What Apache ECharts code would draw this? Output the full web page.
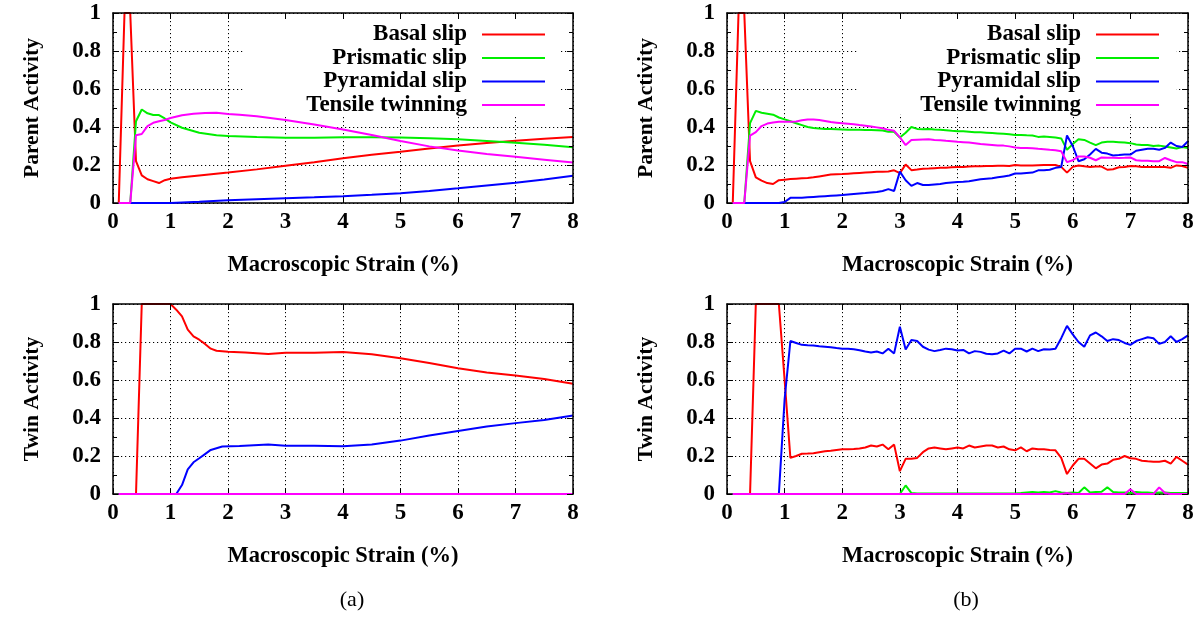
<!DOCTYPE html>
<html><head><meta charset="utf-8">
<script src="https://cdn.jsdelivr.net/npm/echarts@6/dist/echarts.min.js"></script>
<style>html,body{margin:0;padding:0;background:#fff}#c{width:1200px;height:643px}</style>
</head><body><div id="c"></div>
<script>
// ---------- data ----------
const seriesNames = ['Basal slip', 'Prismatic slip', 'Pyramidal slip', 'Tensile twinning'];
const xTicks = [0, 1, 2, 3, 4, 5, 6, 7, 8];
const yTicks = [0, 0.2, 0.4, 0.6, 0.8, 1];

// (a) parent activity, [strain, value]
const aParentBasal = [[0.1,0],[0.2,1],[0.3,1],[0.4,0.22],[0.5,0.145],[0.6,0.125],[0.7,0.115],[0.8,0.105],[0.9,0.12],[1.0,0.128],[1.2,0.135],[1.5,0.145],[2,0.16],[2.5,0.177],[3,0.196],[3.5,0.215],[4,0.236],[4.5,0.254],[5,0.27],[5.5,0.287],[6,0.302],[6.5,0.316],[7,0.327],[7.5,0.338],[8,0.347]];
const aParentPrism = [[0.1,0],[0.3,0],[0.4,0.43],[0.5,0.492],[0.6,0.472],[0.7,0.463],[0.8,0.463],[0.9,0.445],[1.0,0.424],[1.2,0.396],[1.5,0.37],[1.8,0.356],[2,0.352],[2.5,0.347],[3,0.343],[3.5,0.344],[4,0.346],[4.5,0.346],[5,0.345],[5.5,0.341],[6,0.335],[6.5,0.326],[7,0.317],[7.5,0.306],[8,0.294]];
const aParentPyram = [[0.1,0],[1.0,0],[1.5,0.006],[2,0.015],[2.5,0.02],[3,0.025],[3.5,0.03],[4,0.036],[4.5,0.043],[5,0.051],[5.5,0.063],[6,0.077],[6.5,0.092],[7,0.107],[7.5,0.124],[8,0.144]];
const aParentTwin = [[0.1,0],[0.3,0],[0.4,0.357],[0.5,0.363],[0.6,0.405],[0.7,0.422],[0.8,0.43],[0.9,0.437],[1.0,0.447],[1.2,0.462],[1.4,0.47],[1.6,0.474],[1.8,0.475],[2,0.469],[2.2,0.465],[2.5,0.456],[3,0.437],[3.5,0.413],[4,0.387],[4.5,0.358],[5,0.326],[5.5,0.298],[6,0.276],[6.5,0.258],[7,0.243],[7.5,0.228],[8,0.213]];

// (a) twin activity, [strain, value]
const aTwinBasal = [[0.1,0],[0.4,0],[0.5,1],[1.0,1],[1.1,0.97],[1.2,0.935],[1.3,0.865],[1.4,0.83],[1.5,0.812],[1.6,0.79],[1.7,0.765],[1.8,0.754],[2,0.749],[2.3,0.745],[2.7,0.737],[3,0.743],[3.5,0.744],[4,0.747],[4.5,0.735],[5,0.715],[5.5,0.69],[6,0.662],[6.5,0.64],[7,0.624],[7.5,0.605],[8,0.58]];
const aTwinPrism = [[0.1,0],[8,0]];
const aTwinPyram = [[0.1,0],[1.1,0],[1.2,0.047],[1.3,0.13],[1.4,0.167],[1.5,0.188],[1.6,0.21],[1.7,0.232],[1.9,0.25],[2.2,0.252],[2.7,0.26],[3,0.254],[3.5,0.254],[4,0.251],[4.5,0.26],[5,0.281],[5.5,0.308],[6,0.332],[6.5,0.355],[7,0.373],[7.5,0.39],[8,0.413]];
const aTwinTwin = [[0.1,0],[8,0]];

// (b) strain grid shared by all (b) series
const bStrain = [0.1,0.2,0.3,0.4,0.5,0.6,0.7,0.8,0.9,1.0,1.1,1.2,1.3,1.4,1.5,1.6,1.7,1.8,1.9,2.0,2.1,2.2,2.3,2.4,2.5,2.6,2.7,2.8,2.9,3.0,3.1,3.2,3.3,3.4,3.5,3.6,3.7,3.8,3.9,4.0,4.1,4.2,4.3,4.4,4.5,4.6,4.7,4.8,4.9,5.0,5.1,5.2,5.3,5.4,5.5,5.6,5.7,5.8,5.9,6.0,6.1,6.2,6.3,6.4,6.5,6.6,6.7,6.8,6.9,7.0,7.1,7.2,7.3,7.4,7.5,7.6,7.7,7.8,7.9,8.0];

// (b) parent activity
const bParentBasal = [0,1,1,0.22,0.135,0.118,0.105,0.1,0.12,0.123, 0.126,0.128,0.13,0.132,0.135,0.14,0.145,0.15,0.151,0.152, 0.154,0.156,0.158,0.16,0.162,0.164,0.165,0.166,0.172,0.157, 0.203,0.173,0.176,0.18,0.181,0.183,0.185,0.186,0.188,0.19, 0.19,0.192,0.193,0.194,0.195,0.195,0.196,0.196,0.195,0.2, 0.197,0.197,0.198,0.199,0.2,0.2,0.2,0.19,0.16,0.19, 0.197,0.193,0.19,0.192,0.192,0.175,0.178,0.188,0.19,0.195, 0.193,0.19,0.19,0.19,0.19,0.19,0.185,0.198,0.195,0.185];
const bParentPrism = [0,0,0,0.42,0.485,0.475,0.47,0.465,0.45,0.44, 0.43,0.42,0.41,0.4,0.395,0.392,0.39,0.389,0.388,0.387, 0.386,0.385,0.385,0.384,0.384,0.383,0.382,0.375,0.375,0.345, 0.37,0.4,0.39,0.388,0.39,0.387,0.385,0.383,0.38,0.378, 0.377,0.375,0.373,0.372,0.37,0.368,0.366,0.364,0.362,0.358, 0.358,0.356,0.355,0.348,0.35,0.348,0.345,0.34,0.28,0.31, 0.335,0.332,0.318,0.305,0.318,0.322,0.322,0.32,0.318,0.315, 0.308,0.305,0.305,0.3,0.302,0.297,0.292,0.287,0.295,0.29];
const bParentPyram = [0,0,0,0,0,0,0,0,0,0.005, 0.027,0.027,0.028,0.03,0.032,0.034,0.036,0.038,0.04,0.042, 0.045,0.048,0.05,0.052,0.055,0.058,0.063,0.073,0.063,0.165, 0.12,0.09,0.105,0.095,0.095,0.098,0.1,0.105,0.108,0.11, 0.112,0.115,0.12,0.125,0.128,0.13,0.135,0.14,0.145,0.155, 0.155,0.158,0.16,0.172,0.172,0.175,0.185,0.19,0.355,0.3, 0.22,0.23,0.255,0.285,0.265,0.26,0.25,0.252,0.255,0.255, 0.275,0.28,0.285,0.285,0.28,0.29,0.318,0.3,0.295,0.325];
const bParentTwin = [0,0,0,0.355,0.373,0.405,0.418,0.424,0.427,0.428, 0.428,0.429,0.435,0.44,0.44,0.437,0.432,0.426,0.423,0.42, 0.417,0.414,0.41,0.407,0.403,0.398,0.393,0.385,0.38,0.345, 0.305,0.332,0.333,0.334,0.335,0.332,0.33,0.327,0.325,0.322, 0.32,0.318,0.315,0.31,0.308,0.305,0.302,0.302,0.298,0.292, 0.29,0.29,0.288,0.285,0.283,0.28,0.278,0.272,0.215,0.225, 0.245,0.245,0.238,0.225,0.24,0.238,0.238,0.237,0.238,0.24, 0.225,0.222,0.222,0.22,0.22,0.237,0.225,0.215,0.215,0.205];

// (b) twin activity
const bTwinBasal = [0,0,0,0,1,1,1,1,1,0.6, 0.19,0.2,0.212,0.213,0.215,0.22,0.225,0.228,0.232,0.235, 0.235,0.237,0.24,0.245,0.255,0.25,0.26,0.235,0.26,0.12, 0.185,0.185,0.19,0.22,0.24,0.245,0.24,0.235,0.24,0.245, 0.24,0.255,0.245,0.25,0.255,0.255,0.245,0.25,0.235,0.23, 0.245,0.225,0.24,0.235,0.235,0.232,0.23,0.19,0.105,0.15, 0.185,0.185,0.16,0.135,0.155,0.16,0.18,0.185,0.2,0.188, 0.185,0.175,0.172,0.17,0.17,0.175,0.16,0.195,0.175,0.155];
const bTwinPrism = [0,0,0,0,0,0,0,0,0,0, 0,0,0,0,0,0,0,0,0,0, 0,0,0,0,0,0,0,0,0,0, 0.045,0.005,0.002,0.002,0.002,0.002,0.002,0.002,0.002,0.002, 0.002,0.002,0.002,0.002,0.002,0.003,0.003,0.003,0.003,0.003, 0.005,0.008,0.01,0.008,0.01,0.008,0.015,0.008,0.005,0.008, 0.005,0.035,0.008,0.01,0.012,0.035,0.01,0.008,0.008,0.005, 0.01,0.008,0.008,0.005,0.008,0.008,0.005,0.005,0.005,0.005];
const bTwinPyram = [0,0,0,0,0,0,0,0,0,0.5, 0.805,0.795,0.785,0.783,0.782,0.778,0.775,0.772,0.768,0.765, 0.765,0.762,0.757,0.75,0.745,0.75,0.74,0.765,0.74,0.88, 0.76,0.81,0.805,0.775,0.76,0.752,0.758,0.765,0.762,0.755, 0.758,0.74,0.752,0.748,0.738,0.735,0.74,0.755,0.74,0.765, 0.765,0.75,0.765,0.752,0.762,0.76,0.765,0.82,0.885,0.84, 0.8,0.775,0.835,0.85,0.83,0.805,0.815,0.81,0.795,0.785, 0.805,0.815,0.825,0.82,0.79,0.8,0.83,0.8,0.815,0.835];
const bTwinTwin = [0,0,0,0,0,0,0,0,0,0, 0,0,0,0,0,0,0,0,0,0, 0,0,0,0,0,0,0,0,0,0, 0,0,0,0,0,0,0,0,0,0, 0,0,0,0,0,0,0,0,0,0, 0,0,0,0,0,0,0,0,0.005,0, 0,0,0,0,0,0,0,0,0,0.025, 0,0,0,0,0.035,0.005,0,0,0,0];

// ---------- chart ----------
const FONT = 'Liberation Serif';
const colors = ['#ff0000', '#00ee00', '#0000ff', '#ff00ff'];
const grids = [
  {left: 113, top: 13, width: 460, height: 190},
  {left: 727, top: 13, width: 461, height: 190},
  {left: 113, top: 304, width: 460, height: 190},
  {left: 727, top: 304, width: 461, height: 190}
];
const yNames = ['Parent Activity', 'Parent Activity', 'Twin Activity', 'Twin Activity'];
const boldText = {color: '#000', fontFamily: FONT, fontWeight: 'bold'};
const lineSt = {color: '#000', width: 1.5};

const xAxis = [], yAxis = [];
grids.forEach((g, gi) => {
  xAxis.push({
    type: 'value', gridIndex: gi, min: xTicks[0], max: xTicks[xTicks.length - 1], interval: 1,
    position: 'bottom',
    axisLine: {show: true, onZero: false, lineStyle: lineSt},
    axisTick: {show: true, inside: true, length: 6, lineStyle: {color: '#000', width: 1}},
    axisLabel: Object.assign({fontSize: 23, margin: 8}, boldText),
    splitLine: {show: true, lineStyle: {color: '#000', width: 1, type: [1.2, 2.8]}},
    name: 'Macroscopic Strain (%)', nameLocation: 'middle', nameGap: 51,
    nameTextStyle: Object.assign({fontSize: 22.5}, boldText)
  });
  xAxis.push({
    type: 'value', gridIndex: gi, min: 0, max: 8, interval: 1, position: 'top', z: 5,
    axisLine: {show: true, onZero: false, lineStyle: lineSt},
    axisTick: {show: true, inside: true, length: 6, lineStyle: {color: '#000', width: 1}},
    axisLabel: {show: false}, splitLine: {show: false}
  });
  yAxis.push({
    type: 'value', gridIndex: gi, min: yTicks[0], max: yTicks[yTicks.length - 1], interval: 0.2,
    position: 'left',
    axisLine: {show: true, onZero: false, lineStyle: lineSt},
    axisTick: {show: true, inside: true, length: 6, lineStyle: {color: '#000', width: 1}},
    minorTick: {show: true, splitNumber: 2, length: 4, lineStyle: {color: '#000', width: 1}},
    axisLabel: Object.assign({fontSize: 23, margin: 12}, boldText),
    splitLine: {show: true, lineStyle: {color: '#000', width: 1, type: [1.2, 2.8]}},
    name: yNames[gi], nameLocation: 'middle', nameGap: 70,
    nameTextStyle: Object.assign({fontSize: 21.5}, boldText)
  });
  yAxis.push({
    type: 'value', gridIndex: gi, min: 0, max: 1, interval: 0.2, position: 'right', z: 5,
    axisLine: {show: true, onZero: false, lineStyle: lineSt},
    axisTick: {show: true, inside: true, length: 6, lineStyle: {color: '#000', width: 1}},
    minorTick: {show: true, splitNumber: 2, length: 4, lineStyle: {color: '#000', width: 1}},
    axisLabel: {show: false}, splitLine: {show: false}
  });
});

const panelData = [
  [aParentBasal, aParentPrism, aParentPyram, aParentTwin],
  [bParentBasal, bParentPrism, bParentPyram, bParentTwin].map(a => a.map((v, i) => [bStrain[i], v])),
  [aTwinBasal, aTwinPrism, aTwinPyram, aTwinTwin],
  [bTwinBasal, bTwinPrism, bTwinPyram, bTwinTwin].map(a => a.map((v, i) => [bStrain[i], v]))
];
const series = [];
panelData.forEach((sets, gi) => {
  sets.forEach((d, si) => {
    series.push({
      type: 'line', name: seriesNames[si], xAxisIndex: gi * 2, yAxisIndex: gi * 2,
      data: d, symbol: 'none', showSymbol: false, clip: false, z: 2,
      lineStyle: {color: colors[si], width: 2}, itemStyle: {color: colors[si]},
      animation: false
    });
  });
});

function legend(rightPx) {
  return {
    data: seriesNames.map(n => ({name: n, icon: 'rect'})),
    orient: 'vertical', align: 'right', right: rightPx, top: 23,
    itemWidth: 63, itemHeight: 2, itemGap: 0.5, padding: 0, selectedMode: false, z: 6,
    textStyle: Object.assign({fontSize: 23, lineHeight: 20, padding: [0, 10, 0, 0]}, boldText)
  };
}

const option = {
  backgroundColor: '#fff',
  animation: false,
  grid: grids,
  xAxis: xAxis,
  yAxis: yAxis,
  legend: [legend(1200 - 545), legend(1200 - 1159)],
  series: series,
  graphic: [
    {type: 'rect', z: 1, shape: {x: 244, y: 14, width: 316, height: 101}, style: {fill: '#fff'}, silent: true},
    {type: 'rect', z: 1, shape: {x: 859, y: 14, width: 317, height: 100}, style: {fill: '#fff'}, silent: true},
    {type: 'text', z: 1, x: 352, y: 600, style: {text: '(a)', fill: '#000', font: '22px "Liberation Serif"', textAlign: 'center', textVerticalAlign: 'middle'}},
    {type: 'text', z: 1, x: 966, y: 600, style: {text: '(b)', fill: '#000', font: '22px "Liberation Serif"', textAlign: 'center', textVerticalAlign: 'middle'}}
  ]
};
const chart = echarts.init(document.getElementById('c'), null, {renderer: 'canvas'});
chart.setOption(option);
</script></body></html>
